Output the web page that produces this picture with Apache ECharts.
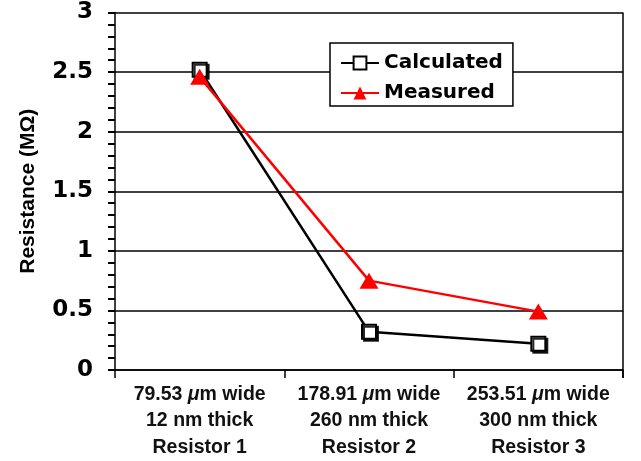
<!DOCTYPE html>
<html>
<head>
<meta charset="utf-8">
<script src="https://cdn.jsdelivr.net/npm/echarts@6/dist/echarts.min.js"></script>
<style>
  html, body { margin: 0; padding: 0; background: #fff; }
  #myChart { width: 641px; height: 461px; }
</style>
</head>
<body>
<div id="myChart"></div>
<script>
// categories (x axis)
const categories = [
  '79.53 μm wide\n12 nm thick\nResistor 1',
  '178.91 μm wide\n260 nm thick\nResistor 2',
  '253.51 μm wide\n300 nm thick\nResistor 3'
]
// series values (MΩ)
const calculated = [2.52, 0.32, 0.22]
const measured = [2.46, 0.75, 0.49]
// y ticks
const yMin = 0
const yMax = 3
const yStep = 0.5

let myChart = echarts.init(document.getElementById('myChart'))

let option = {
  animation: false,
  backgroundColor: '#fff',
  grid: {
    left: 115,
    right: 18,
    top: 12.5,
    bottom: 91
  },
  legend: {
    orient: 'vertical',
    left: 330,
    top: 43,
    backgroundColor: '#fff',
    borderColor: '#000',
    borderWidth: 1.5,
    borderRadius: 0,
    padding: [10, 10, 3, 10],
    itemWidth: 38,
    itemHeight: 16,
    itemGap: 10,
    textStyle: {
      fontFamily: 'DejaVu Sans',
      fontWeight: 'bold',
      fontSize: 20,
      color: '#000'
    },
    data: ['Calculated', 'Measured']
  },
  xAxis: {
    type: 'category',
    data: categories,
    boundaryGap: true,
    axisLine: { lineStyle: { color: '#000', width: 1.5 } },
    axisTick: { show: true, length: 8, lineStyle: { color: '#000', width: 1.5 } },
    axisLabel: {
      interval: 0,
      margin: 11,
      color: '#111',
      fontFamily: 'Liberation Sans',
      fontWeight: 'bold',
      fontSize: 19.5,
      lineHeight: 26.5,
      formatter: function (v) {
        return v.replace('μ', '{mu|μ}')
      },
      rich: {
        mu: {
          fontFamily: 'Liberation Sans',
          fontStyle: 'italic',
          fontSize: 19.5,
          color: '#111'
        }
      }
    }
  },
  yAxis: {
    type: 'value',
    min: yMin,
    max: yMax,
    interval: yStep,
    name: 'Resistance (MΩ)',
    nameLocation: 'middle',
    nameGap: 76,
    nameTextStyle: {
      fontFamily: 'Liberation Sans',
      fontWeight: 'bold',
      fontSize: 21,
      color: '#000'
    },
    axisLine: { show: true, lineStyle: { color: '#000', width: 1.5 } },
    axisTick: { show: true, length: 7, lineStyle: { color: '#000', width: 2 } },
    minorTick: { show: true, splitNumber: 5, length: 7, lineStyle: { color: '#000', width: 2 } },
    splitLine: { show: true, lineStyle: { color: '#000', width: 1.5 } },
    axisLabel: {
      margin: 22,
      color: '#000',
      fontFamily: 'DejaVu Sans',
      fontWeight: 'bold',
      fontSize: 23
    }
  },
  series: [
    {
      name: 'Calculated',
      type: 'line',
      data: calculated,
      symbol: 'rect',
      symbolSize: 14,
      showAllSymbol: true,
      lineStyle: { color: '#000', width: 2.5 },
      itemStyle: {
        color: '#fff',
        borderColor: '#000',
        borderWidth: 2,
        shadowColor: 'rgba(0,0,0,0.85)',
        shadowOffsetX: 2,
        shadowOffsetY: 2,
        shadowBlur: 0
      },
      z: 2
    },
    {
      name: 'Measured',
      type: 'line',
      data: measured,
      symbol: 'triangle',
      symbolSize: [19, 16],
      showAllSymbol: true,
      lineStyle: { color: '#f00', width: 2.5 },
      itemStyle: { color: '#f00', borderColor: '#f00', borderWidth: 0 },
      z: 3
    }
  ]
}
myChart.setOption(option)

// right border of the plot area, placed from the axes' own scales
let last = categories.length - 1
let xLast = myChart.convertToPixel({ xAxisIndex: 0 }, last)
let xPrev = myChart.convertToPixel({ xAxisIndex: 0 }, last - 1)
let xRight = xLast + (xLast - xPrev) / 2
let yTop = myChart.convertToPixel({ yAxisIndex: 0 }, yMax)
let yBottom = myChart.convertToPixel({ yAxisIndex: 0 }, yMin)
myChart.setOption({
  graphic: [{
    type: 'line',
    shape: { x1: xRight, y1: yTop, x2: xRight, y2: yBottom + 8 },
    style: { stroke: '#000', lineWidth: 1.5 },
    z: 1
  }]
})
</script>
</body>
</html>
